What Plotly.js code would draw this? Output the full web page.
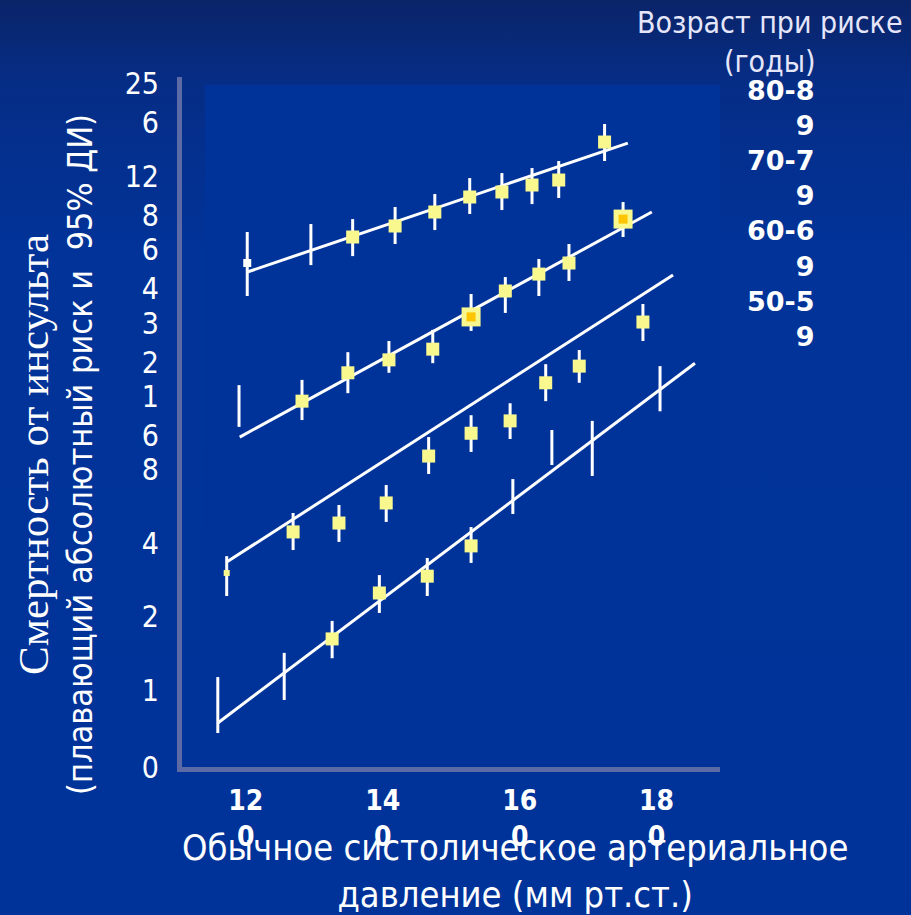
<!DOCTYPE html>
<html><head><meta charset="utf-8">
<script src="https://cdn.plot.ly/plotly-3.0.1.min.js"></script>
<style>
html,body{margin:0;padding:0;width:911px;height:915px;overflow:hidden;
background:linear-gradient(to bottom,#0a2468 0%,#062d86 9%,#013399 28%,#003399 100%);}
#chart{width:911px;height:915px;}
</style></head><body><div id="chart"></div>
<script>
// Age groups (years)
const ageGroups = ['80-89', '70-79', '60-69', '50-59'];

// 80-89
const sbp80  = [120.2, 129.5, 135.6, 141.8, 147.6, 152.7, 157.4, 161.8, 165.7, 172.4];
const rate80 = [56.4, 66.8, 72.1, 80.0, 91.3, 105.2, 110.3, 117.8, 123.5, 176.8];
const lo80   = [41.3, 55.3, 60.2, 67.5, 77.0, 89.6, 93.0, 98.4, 104.2, 147.8];
const hi80   = [75.6, 81.5, 85.4, 95.7, 108.2, 125.8, 131.9, 138.3, 147.8, 209.6];
const shown80 = [1, 0, 1, 1, 1, 1, 1, 1, 1, 1];
const fitX80 = [120.2, 175.8];
const fitY80 = [51.8, 175.1];

// 70-79
const sbp70  = [119.0, 128.2, 134.9, 140.9, 147.3, 152.9, 157.9, 162.8, 167.2, 175.1];
const rate70 = [14.6, 15.3, 20.0, 22.6, 25.0, 33.9, 43.3, 50.8, 56.4, 85.4];
const lo70   = [12.0, 12.8, 16.5, 20.0, 21.9, 29.7, 35.2, 41.3, 47.6, 72.1];
const hi70   = [17.8, 18.7, 24.3, 27.0, 30.0, 42.1, 49.4, 58.6, 67.5, 100.3];
const shown70 = [0, 1, 1, 1, 1, 1, 1, 1, 1, 1];
const fitX70 = [119.1, 179.3];
const fitY70 = [10.9, 91.3];

// 60-69
const sbp60  = [117.2, 126.9, 133.6, 140.5, 146.7, 152.9, 158.6, 163.8, 168.7, 178.0];
const rate60 = [3.02, 4.45, 4.84, 5.85, 9.11, 11.3, 12.7, 18.2, 21.3, 32.3];
const lo60   = [2.43, 3.75, 4.05, 4.89, 7.69, 9.47, 10.7, 15.3, 18.2, 27.0];
const hi60   = [3.54, 5.32, 5.74, 6.93, 10.9, 13.4, 15.0, 21.7, 24.8, 38.3];
const shown60 = [1, 1, 1, 1, 1, 1, 1, 1, 1, 1];
const fitX60 = [117.2, 182.4];
const fitY60 = [3.35, 50.4];

// 50-59
const sbp50  = [115.9, 125.6, 132.6, 139.5, 146.5, 152.9, 159.0, 164.7, 170.6, 180.5];
const rate50 = [0.868, 1.14, 1.62, 2.50, 2.93, 3.90, 6.22, 9.88, 9.78, 17.2];
const lo50   = [0.666, 0.910, 1.35, 2.07, 2.43, 3.32, 5.27, 8.37, 7.55, 13.9];
const hi50   = [1.13, 1.42, 1.92, 2.96, 3.48, 4.66, 7.33, 11.65, 12.7, 21.3];
const shown50 = [0, 0, 1, 1, 1, 1, 0, 0, 0, 0];
const fitX50 = [115.9, 185.6];
const fitY50 = [0.732, 21.9];

// Axis ticks
const xTickVals = [120, 140, 160, 180];
const xTickText = ['12<br>0', '14<br>0', '16<br>0', '18<br>0'];
const yTickVals = [1, 2, 4, 8, 16, 32, 64, 128, 256];
const yTickText = ['1', '2', '4', '8', '1<br>6', '3<br>2', '6<br>4', '12<br>8', '25<br>6'];

// ---------- build ----------
const series = [
  {name: ageGroups[0], x: sbp80, y: rate80, lo: lo80, hi: hi80, shown: shown80, fx: fitX80, fy: fitY80},
  {name: ageGroups[1], x: sbp70, y: rate70, lo: lo70, hi: hi70, shown: shown70, fx: fitX70, fy: fitY70},
  {name: ageGroups[2], x: sbp60, y: rate60, lo: lo60, hi: hi60, shown: shown60, fx: fitX60, fy: fitY60},
  {name: ageGroups[3], x: sbp50, y: rate50, lo: lo50, hi: hi50, shown: shown50, fx: fitX50, fy: fitY50}
];
// special marker styling (by group name and point index)
const special = {
  '80-89': {0: {size: 8, color: '#ffffff'}},
  '60-69': {0: {size: 6, color: '#f8f88e'}},
  '70-79': {5: {size: 19, color: '#f8f88e', core: true}, 9: {size: 19, color: '#f8f88e', core: true}}
};
const YEL = '#f8f88e';
const traces = [];
series.forEach(s => {
  traces.push({
    type: 'scatter', mode: 'lines', x: s.fx, y: s.fy, name: s.name + ' fit',
    line: {color: '#ffffff', width: 3}, hoverinfo: 'skip', showlegend: false
  });
  traces.push({
    type: 'scatter', mode: 'markers', x: s.x, y: s.y, name: s.name + ' CI',
    marker: {size: 1, opacity: 0},
    error_y: {type: 'data', symmetric: false,
      array: s.hi.map((h, i) => h - s.y[i]),
      arrayminus: s.lo.map((l, i) => s.y[i] - l),
      color: '#ffffff', thickness: 3, width: 0},
    showlegend: false
  });
  const mx = [], my = [], ms = [], mc = [], cx = [], cy = [];
  s.x.forEach((xv, i) => {
    if (!s.shown[i]) return;
    const sp = (special[s.name] || {})[i];
    mx.push(xv); my.push(s.y[i]);
    ms.push(sp ? sp.size : 13);
    mc.push(sp ? sp.color : YEL);
    if (sp && sp.core) { cx.push(xv); cy.push(s.y[i]); }
  });
  traces.push({
    type: 'scatter', mode: 'markers', x: mx, y: my, name: s.name,
    marker: {symbol: 'square', size: ms, color: mc, opacity: 1, line: {width: 0}},
    showlegend: false
  });
  if (cx.length) {
    traces.push({
      type: 'scatter', mode: 'markers', x: cx, y: cy, name: s.name + ' core',
      marker: {symbol: 'square', size: 9, color: '#ffc400', opacity: 1, line: {width: 0}},
      showlegend: false, hoverinfo: 'skip'
    });
  }
});

const L = 182, T = 77, R = 720, B = 767, W = 911, H = 915;
const pw = R - L, ph = B - T;
const px = v => (v - L) / pw;      // pixel -> paper x
const py = v => (B - v) / ph;      // pixel -> paper y
const yMinLog = -0.3158, yMaxLog = 2.5142;

// two-line labels of the middle ticks sit half a line lower in the reference
const yTickShown = yTickText.map((t, i) => (yTickVals[i] >= 16 && yTickVals[i] <= 128) ? '<br>' + t : t);

const layout = {
  width: W, height: H,
  margin: {l: L, r: W - R, t: T, b: H - B, pad: 0},
  paper_bgcolor: 'rgba(0,0,0,0)',
  plot_bgcolor: 'rgba(0,0,0,0)',
  showlegend: false,
  xaxis: {
    range: [110.67, 189.26], tickvals: xTickVals, ticktext: xTickText,
    showgrid: false, zeroline: false, showline: true, linecolor: '#5c6ba6', linewidth: 5,
    ticks: '', ticklabelstandoff: 4,
    tickfont: {family: 'DejaVu Sans Condensed, DejaVu Sans, sans-serif', size: 28, color: '#ffffff', weight: 'bold'}
  },
  yaxis: {
    type: 'log', range: [yMinLog, yMaxLog],
    tickvals: [Math.pow(10, yMinLog)].concat(yTickVals),
    ticktext: ['0'].concat(yTickShown),
    showgrid: false, zeroline: false, showline: true, linecolor: '#5c6ba6', linewidth: 5,
    ticks: '', ticklabelstandoff: 12,
    tickfont: {family: 'DejaVu Sans Condensed, DejaVu Sans, sans-serif', size: 30, color: '#ffffff'}
  },
  shapes: [{
    type: 'rect', xref: 'paper', yref: 'paper', layer: 'below',
    x0: px(205), x1: 1, y0: 0, y1: py(85),
    fillcolor: '#003399', line: {width: 0}
  }],
  annotations: [
    {xref: 'paper', yref: 'paper', x: px(770), y: py(42), xanchor: 'center', yanchor: 'middle',
     showarrow: false, align: 'center',
     text: 'Возраст при риске<br>(годы)',
     font: {family: 'DejaVu Sans Condensed, DejaVu Sans, sans-serif', size: 30, color: '#e6e6fb'}},
    {xref: 'paper', yref: 'paper', x: px(817), y: py(213), xanchor: 'right', yanchor: 'middle',
     showarrow: false, align: 'right',
     text: ageGroups.map(a => a.slice(0, 4) + '<br>' + a.slice(4)).join('<br>'),
     font: {family: 'DejaVu Sans, sans-serif', size: 27, color: '#ffffff', weight: 'bold'}},
    {xref: 'paper', yref: 'paper', x: px(515), y: py(871), xanchor: 'center', yanchor: 'middle',
     showarrow: false, align: 'center',
     text: 'Обычное систолическое артериальное<br>давление (мм рт.ст.)',
     font: {family: 'DejaVu Sans Condensed, DejaVu Sans, sans-serif', size: 36, color: '#ffffff'}},
    {xref: 'paper', yref: 'paper', x: px(55), y: py(455), xanchor: 'center', yanchor: 'middle',
     showarrow: false, align: 'center', textangle: -90,
     text: '<span style="font-family:\'Liberation Serif\',serif;font-size:43px">Смертность от инсульта</span><br>(плавающий абсолютный риск и  95% ДИ)',
     font: {family: 'DejaVu Sans Condensed, DejaVu Sans, sans-serif', size: 34, color: '#ffffff'}}
  ]
};

Plotly.newPlot('chart', traces, layout, {displayModeBar: false, staticPlot: true});
</script>
</body></html>
